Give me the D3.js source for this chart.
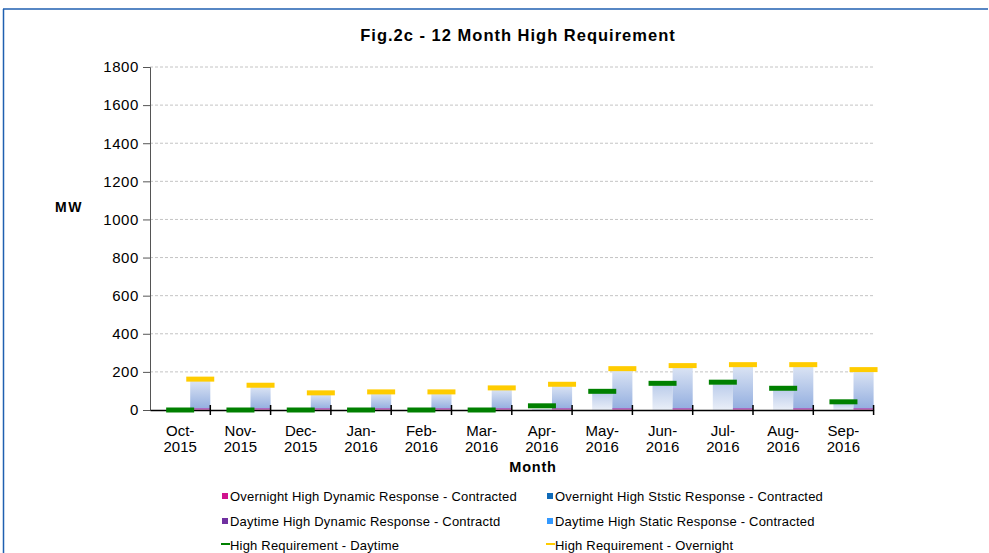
<!DOCTYPE html>
<html>
<head>
<meta charset="utf-8">
<script src="https://cdn.jsdelivr.net/npm/d3@7"></script>
<style>
  body { margin: 0; background: #fff; }
  svg { font-family: "Liberation Sans", Arial, sans-serif; }
</style>
</head>
<body>
<svg width="989" height="553"></svg>
<script>
// chart data
var months = ['Oct-2015', 'Nov-2015', 'Dec-2015', 'Jan-2016', 'Feb-2016', 'Mar-2016',
    'Apr-2016', 'May-2016', 'Jun-2016', 'Jul-2016', 'Aug-2016', 'Sep-2016']
var overnightDynamic = [5, 5, 5, 5, 5, 5, 5, 5, 5, 5, 5, 5]
var overnightStatic = [148, 117, 78, 83, 83, 104, 123, 205, 221, 226, 226, 200]
var daytimeDynamic = [0, 0, 0, 0, 0, 0, 0, 0, 0, 0, 0, 0]
var daytimeStatic = [0, 0, 0, 0, 0, 0, 5, 88, 130, 136, 104, 33]
var reqDaytime = [0, 0, 0, 0, 0, 0, 22, 98, 140, 146, 114, 43]
var reqOvernight = [162, 130, 90, 95, 95, 116, 135, 217, 233, 238, 238, 212]
var yTicks = [0, 200, 400, 600, 800, 1000, 1200, 1400, 1600, 1800]

var svg = d3.select('svg')

// outer frame
svg.append('line')
    .attr('x1', 3).attr('y1', 9).attr('x2', 988).attr('y2', 9)
    .attr('stroke', '#1f5fb0').attr('stroke-width', 1.5)
svg.append('line')
    .attr('x1', 3.5).attr('y1', 9).attr('x2', 3.5).attr('y2', 553)
    .attr('stroke', '#1f5fb0').attr('stroke-width', 1.5)

var defs = svg.append('defs')
var gNight = defs.append('linearGradient').attr('id', 'gNight')
    .attr('x1', 0).attr('y1', 0).attr('x2', 0).attr('y2', 1)
gNight.append('stop').attr('offset', '0%').attr('stop-color', '#dbe4f4')
gNight.append('stop').attr('offset', '100%').attr('stop-color', '#93aedf')
var gDay = defs.append('linearGradient').attr('id', 'gDay')
    .attr('x1', 0).attr('y1', 0).attr('x2', 0).attr('y2', 1)
gDay.append('stop').attr('offset', '0%').attr('stop-color', '#bccdeb')
gDay.append('stop').attr('offset', '100%').attr('stop-color', '#eaeff8')

var x = d3.scaleBand().domain(months).range([150, 873.6])
var xs = d3.scaleBand().domain(['gap', 'day', 'night']).range([0, x.bandwidth()])
var y = d3.scaleLinear().domain([0, 1800]).range([410, 67])

// gridlines
svg.append('g')
    .selectAll('line')
    .data(yTicks.slice(1))
    .enter()
    .append('line')
    .attr('x1', 150).attr('x2', 874)
    .attr('y1', d => y(d)).attr('y2', d => y(d))
    .attr('stroke', '#c4c4c4')
    .attr('stroke-dasharray', '3,2')

// bars
var groups = svg.append('g')
    .selectAll('g')
    .data(months)
    .enter()
    .append('g')
    .attr('transform', d => 'translate(' + x(d) + ',0)')

groups.append('rect')
    .attr('x', xs('day'))
    .attr('width', xs.bandwidth())
    .attr('y', (d, i) => y(daytimeDynamic[i] + daytimeStatic[i]))
    .attr('height', (d, i) => y(daytimeDynamic[i]) - y(daytimeDynamic[i] + daytimeStatic[i]))
    .attr('fill', 'url(#gDay)')

groups.append('rect')
    .attr('x', xs('night'))
    .attr('width', xs.bandwidth())
    .attr('y', (d, i) => y(overnightDynamic[i] + overnightStatic[i]))
    .attr('height', (d, i) => y(overnightDynamic[i]) - y(overnightDynamic[i] + overnightStatic[i]))
    .attr('fill', 'url(#gNight)')

groups.append('rect')
    .attr('x', xs('night'))
    .attr('width', xs.bandwidth())
    .attr('y', (d, i) => y(overnightDynamic[i]) - 0.5)
    .attr('height', (d, i) => y(0) - y(overnightDynamic[i]))
    .attr('fill', '#c8159a')

// axes
var yAxis = svg.append('g')
    .attr('transform', 'translate(150,0)')
    .call(d3.axisLeft(y).tickValues(yTicks).tickFormat(d3.format('d')).tickSize(7).tickPadding(4))
yAxis.select('.domain').attr('stroke', '#555')
yAxis.selectAll('.tick line').attr('stroke', '#555')
yAxis.selectAll('text')
    .style('font-size', '15px')
    .style('letter-spacing', '0.6px')
    .attr('fill', '#000')

var xAxis = svg.append('g')
    .attr('transform', 'translate(0,410)')
    .call(d3.axisBottom(x).tickSize(0).tickFormat(''))
xAxis.select('.domain').attr('stroke', '#000').attr('stroke-width', 1.5)

svg.append('g')
    .selectAll('line')
    .data(months)
    .enter()
    .append('line')
    .attr('x1', d => x(d) + x.bandwidth())
    .attr('x2', d => x(d) + x.bandwidth())
    .attr('y1', 405).attr('y2', 415)
    .attr('stroke', '#000').attr('stroke-width', 1.5)

var labels = svg.append('g')
    .selectAll('text')
    .data(months)
    .enter()
    .append('text')
    .attr('x', d => x(d) + x.bandwidth() / 2)
    .attr('text-anchor', 'middle')
    .style('font-size', '15px')
labels.append('tspan')
    .attr('x', d => x(d) + x.bandwidth() / 2)
    .attr('y', 436)
    .text(d => d.split('-')[0] + '-')
labels.append('tspan')
    .attr('x', d => x(d) + x.bandwidth() / 2)
    .attr('y', 452)
    .text(d => d.split('-')[1])

// requirement dashes
svg.append('g')
    .selectAll('line')
    .data(months)
    .enter()
    .append('line')
    .attr('x1', d => x(d) + xs('day') + xs.bandwidth() / 2 - 14)
    .attr('x2', d => x(d) + xs('day') + xs.bandwidth() / 2 + 14)
    .attr('y1', (d, i) => y(reqDaytime[i]))
    .attr('y2', (d, i) => y(reqDaytime[i]))
    .attr('stroke', '#008000')
    .attr('stroke-width', 5)

svg.append('g')
    .selectAll('line')
    .data(months)
    .enter()
    .append('line')
    .attr('x1', d => x(d) + xs('night') + xs.bandwidth() / 2 - 14)
    .attr('x2', d => x(d) + xs('night') + xs.bandwidth() / 2 + 14)
    .attr('y1', (d, i) => y(reqOvernight[i]))
    .attr('y2', (d, i) => y(reqOvernight[i]))
    .attr('stroke', '#ffcc00')
    .attr('stroke-width', 5)

// titles
svg.append('text')
    .text('Fig.2c - 12 Month High Requirement')
    .attr('x', 518).attr('y', 41)
    .attr('text-anchor', 'middle')
    .style('font-size', '16.5px')
    .style('letter-spacing', '1px')
    .style('font-weight', 'bold')

svg.append('text')
    .text('MW')
    .attr('x', 55).attr('y', 212)
    .style('font-size', '14px')
    .style('letter-spacing', '1.5px')
    .style('font-weight', 'bold')

svg.append('text')
    .text('Month')
    .attr('x', 533).attr('y', 472)
    .attr('text-anchor', 'middle')
    .style('font-size', '14.5px')
    .style('letter-spacing', '0.8px')
    .style('font-weight', 'bold')

// legend
var legend = [
    { name: 'Overnight High Dynamic Response - Contracted', color: '#d0128e', type: 'box', col: 0, row: 0 },
    { name: 'Overnight High Ststic Response - Contracted', color: '#0f6ab8', type: 'box', col: 1, row: 0 },
    { name: 'Daytime High Dynamic Response - Contractd', color: '#7030a0', type: 'box', col: 0, row: 1 },
    { name: 'Daytime High Static Response - Contracted', color: '#3399ff', type: 'box', col: 1, row: 1 },
    { name: 'High Requirement - Daytime', color: '#008000', type: 'line', col: 0, row: 2 },
    { name: 'High Requirement - Overnight', color: '#ffcc00', type: 'line', col: 1, row: 2 }
]
var legX = [222, 547]
var legY = [496, 521, 545]
var items = svg.append('g')
    .selectAll('g')
    .data(legend)
    .enter()
    .append('g')
    .attr('transform', d => 'translate(' + legX[d.col] + ',' + legY[d.row] + ')')
items.filter(d => d.type === 'box')
    .append('rect')
    .attr('x', 0).attr('y', -3).attr('width', 6).attr('height', 6)
    .attr('fill', d => d.color)
items.filter(d => d.type === 'line')
    .append('line')
    .attr('x1', -1).attr('x2', 8).attr('y1', -1).attr('y2', -1)
    .attr('stroke', d => d.color).attr('stroke-width', 2)
items.append('text')
    .text(d => d.name)
    .attr('x', 8).attr('y', 4.5)
    .style('font-size', '13px')
    .style('letter-spacing', '0.2px')
</script>
</body>
</html>
